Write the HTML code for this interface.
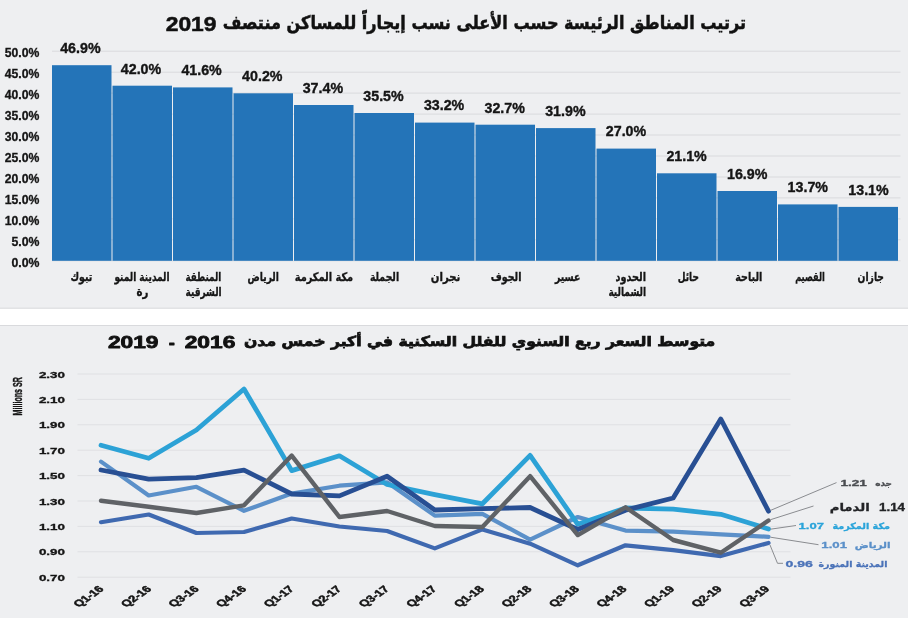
<!DOCTYPE html>
<html lang="ar"><head><meta charset="utf-8"><title>chart</title>
<style>
html,body{margin:0;padding:0;background:#fff;}
body{width:908px;height:618px;overflow:hidden;}
svg{display:block;}
text{font-family:"Liberation Sans","DejaVu Sans",sans-serif;font-weight:bold;}
.ar{font-family:"DejaVu Sans","Liberation Sans",sans-serif;font-weight:bold;}
</style></head><body>
<svg width="908" height="618" viewBox="0 0 908 618">

<rect x="0" y="0" width="908" height="308" fill="#eeeff1"/>
<rect x="0" y="308" width="908" height="18" fill="#ffffff"/>
<rect x="0" y="325.5" width="908" height="292.5" fill="#eeeff1"/>
<rect x="0" y="307.7" width="908" height="1" fill="#d6d7da"/>
<rect x="0" y="325" width="908" height="1" fill="#d9dadd"/>
<line x1="52.0" x2="900.5" y1="260.8" y2="260.8" stroke="#d9dadd" stroke-width="1"/>
<text x="11.4" y="266.7" font-size="12" fill="#151515" textLength="28.0" lengthAdjust="spacingAndGlyphs" stroke="#151515" stroke-width="0.3">0.0%</text>
<line x1="52.0" x2="900.5" y1="239.8" y2="239.8" stroke="#d9dadd" stroke-width="1"/>
<text x="11.4" y="245.7" font-size="12" fill="#151515" textLength="28.0" lengthAdjust="spacingAndGlyphs" stroke="#151515" stroke-width="0.3">5.0%</text>
<line x1="52.0" x2="900.5" y1="218.9" y2="218.9" stroke="#d9dadd" stroke-width="1"/>
<text x="4.8" y="224.8" font-size="12" fill="#151515" textLength="34.6" lengthAdjust="spacingAndGlyphs" stroke="#151515" stroke-width="0.3">10.0%</text>
<line x1="52.0" x2="900.5" y1="197.9" y2="197.9" stroke="#d9dadd" stroke-width="1"/>
<text x="4.8" y="203.8" font-size="12" fill="#151515" textLength="34.6" lengthAdjust="spacingAndGlyphs" stroke="#151515" stroke-width="0.3">15.0%</text>
<line x1="52.0" x2="900.5" y1="177.0" y2="177.0" stroke="#d9dadd" stroke-width="1"/>
<text x="4.8" y="182.9" font-size="12" fill="#151515" textLength="34.6" lengthAdjust="spacingAndGlyphs" stroke="#151515" stroke-width="0.3">20.0%</text>
<line x1="52.0" x2="900.5" y1="156.0" y2="156.0" stroke="#d9dadd" stroke-width="1"/>
<text x="4.8" y="161.9" font-size="12" fill="#151515" textLength="34.6" lengthAdjust="spacingAndGlyphs" stroke="#151515" stroke-width="0.3">25.0%</text>
<line x1="52.0" x2="900.5" y1="135.0" y2="135.0" stroke="#d9dadd" stroke-width="1"/>
<text x="4.8" y="140.9" font-size="12" fill="#151515" textLength="34.6" lengthAdjust="spacingAndGlyphs" stroke="#151515" stroke-width="0.3">30.0%</text>
<line x1="52.0" x2="900.5" y1="114.1" y2="114.1" stroke="#d9dadd" stroke-width="1"/>
<text x="4.8" y="120.0" font-size="12" fill="#151515" textLength="34.6" lengthAdjust="spacingAndGlyphs" stroke="#151515" stroke-width="0.3">35.0%</text>
<line x1="52.0" x2="900.5" y1="93.1" y2="93.1" stroke="#d9dadd" stroke-width="1"/>
<text x="4.8" y="99.0" font-size="12" fill="#151515" textLength="34.6" lengthAdjust="spacingAndGlyphs" stroke="#151515" stroke-width="0.3">40.0%</text>
<line x1="52.0" x2="900.5" y1="72.2" y2="72.2" stroke="#d9dadd" stroke-width="1"/>
<text x="4.8" y="78.1" font-size="12" fill="#151515" textLength="34.6" lengthAdjust="spacingAndGlyphs" stroke="#151515" stroke-width="0.3">45.0%</text>
<line x1="52.0" x2="900.5" y1="51.2" y2="51.2" stroke="#d9dadd" stroke-width="1"/>
<text x="4.8" y="57.1" font-size="12" fill="#151515" textLength="34.6" lengthAdjust="spacingAndGlyphs" stroke="#151515" stroke-width="0.3">50.0%</text>
<rect x="52.00" y="65.2" width="59.50" height="195.6" fill="#2474b8"/>
<text x="60.2" y="53.0" font-size="14.0" fill="#151515" textLength="40.4" lengthAdjust="spacingAndGlyphs" stroke="#151515" stroke-width="0.35">46.9%</text>
<text class="ar" x="92.3" y="280.8" font-size="12" fill="#151515" direction="rtl" text-anchor="start" textLength="21.8" lengthAdjust="spacingAndGlyphs" stroke="#151515" stroke-width="0.35">تبوك</text>
<rect x="112.50" y="85.7" width="59.50" height="175.1" fill="#2474b8"/>
<text x="120.8" y="73.5" font-size="14.0" fill="#151515" textLength="40.4" lengthAdjust="spacingAndGlyphs" stroke="#151515" stroke-width="0.35">42.0%</text>
<text class="ar" x="169.6" y="280.8" font-size="12" fill="#151515" direction="rtl" text-anchor="start" textLength="55.2" lengthAdjust="spacingAndGlyphs" stroke="#151515" stroke-width="0.35">المدينة المنو</text>
<text class="ar" x="148.4" y="296.0" font-size="12" fill="#151515" direction="rtl" text-anchor="start" textLength="11.9" lengthAdjust="spacingAndGlyphs" stroke="#151515" stroke-width="0.35">رة</text>
<rect x="173.00" y="87.4" width="59.50" height="173.4" fill="#2474b8"/>
<text x="181.4" y="75.2" font-size="14.0" fill="#151515" textLength="40.4" lengthAdjust="spacingAndGlyphs" stroke="#151515" stroke-width="0.35">41.6%</text>
<text class="ar" x="221.2" y="280.8" font-size="12" fill="#151515" direction="rtl" text-anchor="start" textLength="35.7" lengthAdjust="spacingAndGlyphs" stroke="#151515" stroke-width="0.35">المنطقة</text>
<text class="ar" x="221.6" y="296.0" font-size="12" fill="#151515" direction="rtl" text-anchor="start" textLength="36.0" lengthAdjust="spacingAndGlyphs" stroke="#151515" stroke-width="0.35">الشرقية</text>
<rect x="233.50" y="93.3" width="59.50" height="167.5" fill="#2474b8"/>
<text x="242.1" y="81.1" font-size="14.0" fill="#151515" textLength="40.4" lengthAdjust="spacingAndGlyphs" stroke="#151515" stroke-width="0.35">40.2%</text>
<text class="ar" x="278.9" y="280.8" font-size="12" fill="#151515" direction="rtl" text-anchor="start" textLength="31.4" lengthAdjust="spacingAndGlyphs" stroke="#151515" stroke-width="0.35">الرياض</text>
<rect x="294.00" y="105.0" width="59.50" height="155.8" fill="#2474b8"/>
<text x="302.7" y="92.8" font-size="14.0" fill="#151515" textLength="40.4" lengthAdjust="spacingAndGlyphs" stroke="#151515" stroke-width="0.35">37.4%</text>
<text class="ar" x="353.2" y="280.8" font-size="12" fill="#151515" direction="rtl" text-anchor="start" textLength="58.5" lengthAdjust="spacingAndGlyphs" stroke="#151515" stroke-width="0.35">مكة المكرمة</text>
<rect x="354.50" y="113.0" width="59.50" height="147.8" fill="#2474b8"/>
<text x="363.3" y="100.8" font-size="14.0" fill="#151515" textLength="40.4" lengthAdjust="spacingAndGlyphs" stroke="#151515" stroke-width="0.35">35.5%</text>
<text class="ar" x="399.1" y="280.8" font-size="12" fill="#151515" direction="rtl" text-anchor="start" textLength="29.2" lengthAdjust="spacingAndGlyphs" stroke="#151515" stroke-width="0.35">الجملة</text>
<rect x="415.00" y="122.6" width="59.50" height="138.2" fill="#2474b8"/>
<text x="423.9" y="110.4" font-size="14.0" fill="#151515" textLength="40.4" lengthAdjust="spacingAndGlyphs" stroke="#151515" stroke-width="0.35">33.2%</text>
<text class="ar" x="460.4" y="280.8" font-size="12" fill="#151515" direction="rtl" text-anchor="start" textLength="29.6" lengthAdjust="spacingAndGlyphs" stroke="#151515" stroke-width="0.35">نجران</text>
<rect x="475.50" y="124.7" width="59.50" height="136.1" fill="#2474b8"/>
<text x="484.5" y="112.5" font-size="14.0" fill="#151515" textLength="40.4" lengthAdjust="spacingAndGlyphs" stroke="#151515" stroke-width="0.35">32.7%</text>
<text class="ar" x="521.4" y="280.8" font-size="12" fill="#151515" direction="rtl" text-anchor="start" textLength="30.7" lengthAdjust="spacingAndGlyphs" stroke="#151515" stroke-width="0.35">الجوف</text>
<rect x="536.00" y="128.1" width="59.50" height="132.7" fill="#2474b8"/>
<text x="545.2" y="115.9" font-size="14.0" fill="#151515" textLength="40.4" lengthAdjust="spacingAndGlyphs" stroke="#151515" stroke-width="0.35">31.9%</text>
<text class="ar" x="580.3" y="280.8" font-size="12" fill="#151515" direction="rtl" text-anchor="start" textLength="25.4" lengthAdjust="spacingAndGlyphs" stroke="#151515" stroke-width="0.35">عسير</text>
<rect x="596.50" y="148.6" width="59.50" height="112.2" fill="#2474b8"/>
<text x="605.8" y="136.4" font-size="14.0" fill="#151515" textLength="40.4" lengthAdjust="spacingAndGlyphs" stroke="#151515" stroke-width="0.35">27.0%</text>
<text class="ar" x="646.1" y="280.8" font-size="12" fill="#151515" direction="rtl" text-anchor="start" textLength="30.6" lengthAdjust="spacingAndGlyphs" stroke="#151515" stroke-width="0.35">الحدود</text>
<text class="ar" x="646.1" y="296.0" font-size="12" fill="#151515" direction="rtl" text-anchor="start" textLength="37.7" lengthAdjust="spacingAndGlyphs" stroke="#151515" stroke-width="0.35">الشمالية</text>
<rect x="657.00" y="173.3" width="59.50" height="87.5" fill="#2474b8"/>
<text x="666.4" y="161.1" font-size="14.0" fill="#151515" textLength="40.4" lengthAdjust="spacingAndGlyphs" stroke="#151515" stroke-width="0.35">21.1%</text>
<text class="ar" x="698.9" y="280.8" font-size="12" fill="#151515" direction="rtl" text-anchor="start" textLength="21.1" lengthAdjust="spacingAndGlyphs" stroke="#151515" stroke-width="0.35">حائل</text>
<rect x="717.50" y="191.0" width="59.50" height="69.8" fill="#2474b8"/>
<text x="727.0" y="178.8" font-size="14.0" fill="#151515" textLength="40.4" lengthAdjust="spacingAndGlyphs" stroke="#151515" stroke-width="0.35">16.9%</text>
<text class="ar" x="762.4" y="280.8" font-size="12" fill="#151515" direction="rtl" text-anchor="start" textLength="27.1" lengthAdjust="spacingAndGlyphs" stroke="#151515" stroke-width="0.35">الباحة</text>
<rect x="778.00" y="204.4" width="59.50" height="56.4" fill="#2474b8"/>
<text x="787.6" y="192.2" font-size="14.0" fill="#151515" textLength="40.4" lengthAdjust="spacingAndGlyphs" stroke="#151515" stroke-width="0.35">13.7%</text>
<text class="ar" x="824.8" y="280.8" font-size="12" fill="#151515" direction="rtl" text-anchor="start" textLength="29.6" lengthAdjust="spacingAndGlyphs" stroke="#151515" stroke-width="0.35">القصيم</text>
<rect x="838.50" y="206.9" width="59.50" height="53.9" fill="#2474b8"/>
<text x="848.3" y="194.7" font-size="14.0" fill="#151515" textLength="40.4" lengthAdjust="spacingAndGlyphs" stroke="#151515" stroke-width="0.35">13.1%</text>
<text class="ar" x="884.0" y="280.8" font-size="12" fill="#151515" direction="rtl" text-anchor="start" textLength="26.4" lengthAdjust="spacingAndGlyphs" stroke="#151515" stroke-width="0.35">جازان</text>
<text class="ar" x="746.0" y="29.2" font-size="18.5" fill="#111" direction="rtl" text-anchor="start" textLength="523.2" lengthAdjust="spacingAndGlyphs" stroke="#111" stroke-width="0.5">ترتيب المناطق الرئيسة حسب الأعلى نسب إيجاراً للمساكن منتصف</text>
<text x="165.7" y="31.0" font-size="19.7" fill="#111" textLength="50.8" lengthAdjust="spacingAndGlyphs" stroke="#111" stroke-width="0.5">2019</text>
<line x1="77.5" x2="790.5" y1="374.0" y2="374.0" stroke="#dfe0e3" stroke-width="1"/>
<text x="38.9" y="377.5" font-size="8.8" fill="#151515" textLength="26.1" lengthAdjust="spacingAndGlyphs" stroke="#151515" stroke-width="0.3">2.30</text>
<line x1="77.5" x2="790.5" y1="399.4" y2="399.4" stroke="#dfe0e3" stroke-width="1"/>
<text x="38.9" y="402.9" font-size="8.8" fill="#151515" textLength="26.1" lengthAdjust="spacingAndGlyphs" stroke="#151515" stroke-width="0.3">2.10</text>
<line x1="77.5" x2="790.5" y1="424.8" y2="424.8" stroke="#dfe0e3" stroke-width="1"/>
<text x="38.9" y="428.3" font-size="8.8" fill="#151515" textLength="26.1" lengthAdjust="spacingAndGlyphs" stroke="#151515" stroke-width="0.3">1.90</text>
<line x1="77.5" x2="790.5" y1="450.2" y2="450.2" stroke="#dfe0e3" stroke-width="1"/>
<text x="38.9" y="453.7" font-size="8.8" fill="#151515" textLength="26.1" lengthAdjust="spacingAndGlyphs" stroke="#151515" stroke-width="0.3">1.70</text>
<line x1="77.5" x2="790.5" y1="475.6" y2="475.6" stroke="#dfe0e3" stroke-width="1"/>
<text x="38.9" y="479.1" font-size="8.8" fill="#151515" textLength="26.1" lengthAdjust="spacingAndGlyphs" stroke="#151515" stroke-width="0.3">1.50</text>
<line x1="77.5" x2="790.5" y1="501.0" y2="501.0" stroke="#dfe0e3" stroke-width="1"/>
<text x="38.9" y="504.5" font-size="8.8" fill="#151515" textLength="26.1" lengthAdjust="spacingAndGlyphs" stroke="#151515" stroke-width="0.3">1.30</text>
<line x1="77.5" x2="790.5" y1="526.4" y2="526.4" stroke="#dfe0e3" stroke-width="1"/>
<text x="38.9" y="529.9" font-size="8.8" fill="#151515" textLength="26.1" lengthAdjust="spacingAndGlyphs" stroke="#151515" stroke-width="0.3">1.10</text>
<line x1="77.5" x2="790.5" y1="551.8" y2="551.8" stroke="#dfe0e3" stroke-width="1"/>
<text x="38.9" y="555.3" font-size="8.8" fill="#151515" textLength="26.1" lengthAdjust="spacingAndGlyphs" stroke="#151515" stroke-width="0.3">0.90</text>
<line x1="77.5" x2="790.5" y1="577.2" y2="577.2" stroke="#dfe0e3" stroke-width="1"/>
<text x="38.9" y="580.7" font-size="8.8" fill="#151515" textLength="26.1" lengthAdjust="spacingAndGlyphs" stroke="#151515" stroke-width="0.3">0.70</text>
<text transform="translate(22.2,415.5) rotate(-90)" font-size="12.5" fill="#151515" stroke="#151515" stroke-width="0.4" textLength="38.5" lengthAdjust="spacingAndGlyphs">Millions SR</text>
<polyline points="101.0,461.6 148.7,495.5 196.4,486.8 244.0,510.8 291.7,493.6 339.4,485.7 387.1,482.3 434.8,515.6 482.4,513.8 530.1,539.7 577.8,517.0 625.5,530.6 673.2,531.7 720.8,534.3 768.5,536.8" fill="none" stroke="#5b90c9" stroke-width="4.2" stroke-linejoin="round" stroke-linecap="round"/>
<polyline points="101.0,445.3 148.7,458.3 196.4,430.0 244.0,389.0 291.7,470.6 339.4,455.8 387.1,484.5 434.8,494.7 482.4,503.8 530.1,455.4 577.8,524.3 625.5,508.0 673.2,509.2 720.8,514.3 768.5,529.0" fill="none" stroke="#2ca2d6" stroke-width="4.8" stroke-linejoin="round" stroke-linecap="round"/>
<polyline points="101.0,522.2 148.7,514.5 196.4,533.0 244.0,532.0 291.7,518.5 339.4,526.5 387.1,531.0 434.8,548.4 482.4,529.4 530.1,543.7 577.8,565.3 625.5,545.3 673.2,550.2 720.8,556.1 768.5,542.9" fill="none" stroke="#3f69b0" stroke-width="4.2" stroke-linejoin="round" stroke-linecap="round"/>
<polyline points="101.0,470.0 148.7,479.2 196.4,477.6 244.0,470.2 291.7,494.0 339.4,495.9 387.1,476.2 434.8,510.0 482.4,508.7 530.1,507.5 577.8,529.5 625.5,510.2 673.2,498.0 720.8,419.0 768.5,511.2" fill="none" stroke="#284f93" stroke-width="4.8" stroke-linejoin="round" stroke-linecap="round"/>
<polyline points="101.0,500.7 148.7,506.8 196.4,513.0 244.0,505.3 291.7,455.6 339.4,517.0 387.1,511.0 434.8,526.0 482.4,527.0 530.1,476.2 577.8,535.1 625.5,507.3 673.2,540.0 720.8,552.7 768.5,520.5" fill="none" stroke="#5f6266" stroke-width="4.4" stroke-linejoin="round" stroke-linecap="round"/>
<text transform="translate(104.5,589.6) scale(1.41,1) rotate(-45)" font-size="9.3" fill="#151515" stroke="#151515" stroke-width="0.45" text-anchor="end">Q1-16</text>
<text transform="translate(152.1,589.6) scale(1.41,1) rotate(-45)" font-size="9.3" fill="#151515" stroke="#151515" stroke-width="0.45" text-anchor="end">Q2-16</text>
<text transform="translate(199.6,589.6) scale(1.41,1) rotate(-45)" font-size="9.3" fill="#151515" stroke="#151515" stroke-width="0.45" text-anchor="end">Q3-16</text>
<text transform="translate(247.1,589.6) scale(1.41,1) rotate(-45)" font-size="9.3" fill="#151515" stroke="#151515" stroke-width="0.45" text-anchor="end">Q4-16</text>
<text transform="translate(294.7,589.6) scale(1.41,1) rotate(-45)" font-size="9.3" fill="#151515" stroke="#151515" stroke-width="0.45" text-anchor="end">Q1-17</text>
<text transform="translate(342.2,589.6) scale(1.41,1) rotate(-45)" font-size="9.3" fill="#151515" stroke="#151515" stroke-width="0.45" text-anchor="end">Q2-17</text>
<text transform="translate(389.8,589.6) scale(1.41,1) rotate(-45)" font-size="9.3" fill="#151515" stroke="#151515" stroke-width="0.45" text-anchor="end">Q3-17</text>
<text transform="translate(437.3,589.6) scale(1.41,1) rotate(-45)" font-size="9.3" fill="#151515" stroke="#151515" stroke-width="0.45" text-anchor="end">Q4-17</text>
<text transform="translate(484.9,589.6) scale(1.41,1) rotate(-45)" font-size="9.3" fill="#151515" stroke="#151515" stroke-width="0.45" text-anchor="end">Q1-18</text>
<text transform="translate(532.5,589.6) scale(1.41,1) rotate(-45)" font-size="9.3" fill="#151515" stroke="#151515" stroke-width="0.45" text-anchor="end">Q2-18</text>
<text transform="translate(580.0,589.6) scale(1.41,1) rotate(-45)" font-size="9.3" fill="#151515" stroke="#151515" stroke-width="0.45" text-anchor="end">Q3-18</text>
<text transform="translate(627.5,589.6) scale(1.41,1) rotate(-45)" font-size="9.3" fill="#151515" stroke="#151515" stroke-width="0.45" text-anchor="end">Q4-18</text>
<text transform="translate(675.1,589.6) scale(1.41,1) rotate(-45)" font-size="9.3" fill="#151515" stroke="#151515" stroke-width="0.45" text-anchor="end">Q1-19</text>
<text transform="translate(722.6,589.6) scale(1.41,1) rotate(-45)" font-size="9.3" fill="#151515" stroke="#151515" stroke-width="0.45" text-anchor="end">Q2-19</text>
<text transform="translate(770.2,589.6) scale(1.41,1) rotate(-45)" font-size="9.3" fill="#151515" stroke="#151515" stroke-width="0.45" text-anchor="end">Q3-19</text>
<line x1="770.5" y1="510.4" x2="836.5" y2="482.6" stroke="#8a8c90" stroke-width="1"/>
<line x1="770.5" y1="519.7" x2="813.5" y2="506" stroke="#8a8c90" stroke-width="1"/>
<line x1="770.5" y1="529.2" x2="796" y2="525.5" stroke="#8a8c90" stroke-width="1"/>
<line x1="770.5" y1="537.2" x2="818.5" y2="544.7" stroke="#8a8c90" stroke-width="1"/>
<polyline points="770,545 777.5,563.3 783,563.3" fill="none" stroke="#8a8c90" stroke-width="1"/>
<text x="840.4" y="486.4" font-size="8.5" fill="#4a4c50" textLength="26.5" lengthAdjust="spacingAndGlyphs" stroke="#4a4c50" stroke-width="0.3">1.21</text>
<text class="ar" x="892.0" y="486.4" font-size="8" fill="#4a4c50" direction="rtl" text-anchor="start" textLength="16.7" lengthAdjust="spacingAndGlyphs" stroke="#4a4c50" stroke-width="0.3">جده</text>
<text x="879.0" y="510.8" font-size="10" fill="#222326" textLength="26.0" lengthAdjust="spacingAndGlyphs" stroke="#222326" stroke-width="0.3">1.14</text>
<text class="ar" x="869.7" y="510.8" font-size="11" fill="#222326" direction="rtl" text-anchor="start" textLength="40.0" lengthAdjust="spacingAndGlyphs" stroke="#222326" stroke-width="0.3">الدمام</text>
<text x="798.6" y="529.2" font-size="9" fill="#2aa4da" textLength="25.4" lengthAdjust="spacingAndGlyphs" stroke="#2aa4da" stroke-width="0.3">1.07</text>
<text class="ar" x="890.0" y="529.2" font-size="8.5" fill="#2aa4da" direction="rtl" text-anchor="start" textLength="57.6" lengthAdjust="spacingAndGlyphs" stroke="#2aa4da" stroke-width="0.3">مكة المكرمة</text>
<text x="821.3" y="547.8" font-size="9" fill="#5b90c9" textLength="25.7" lengthAdjust="spacingAndGlyphs" stroke="#5b90c9" stroke-width="0.3">1.01</text>
<text class="ar" x="890.5" y="547.8" font-size="8.5" fill="#5b90c9" direction="rtl" text-anchor="start" textLength="35.7" lengthAdjust="spacingAndGlyphs" stroke="#5b90c9" stroke-width="0.3">الرياض</text>
<text x="785.5" y="567.0" font-size="9" fill="#4a72b8" textLength="27.4" lengthAdjust="spacingAndGlyphs" stroke="#4a72b8" stroke-width="0.3">0.96</text>
<text class="ar" x="887.4" y="567.0" font-size="8.5" fill="#4a72b8" direction="rtl" text-anchor="start" textLength="68.9" lengthAdjust="spacingAndGlyphs" stroke="#4a72b8" stroke-width="0.3">المدينة المنورة</text>
<text class="ar" x="715.3" y="345.8" font-size="13.8" fill="#111" direction="rtl" text-anchor="start" textLength="471.3" lengthAdjust="spacingAndGlyphs" stroke="#111" stroke-width="0.75">متوسط السعر ربع السنوي للفلل السكنية في أكبر خمس مدن</text>
<text x="184.7" y="348.2" font-size="17.2" fill="#111" textLength="50.7" lengthAdjust="spacingAndGlyphs" stroke="#111" stroke-width="0.8" stroke-linejoin="round">2016</text>
<text x="168.8" y="348.2" font-size="17.2" fill="#111" textLength="6.1" lengthAdjust="spacingAndGlyphs" stroke="#111" stroke-width="0.8" stroke-linejoin="round">-</text>
<text x="107.9" y="348.2" font-size="17.2" fill="#111" textLength="50.6" lengthAdjust="spacingAndGlyphs" stroke="#111" stroke-width="0.8" stroke-linejoin="round">2019</text>
</svg></body></html>
